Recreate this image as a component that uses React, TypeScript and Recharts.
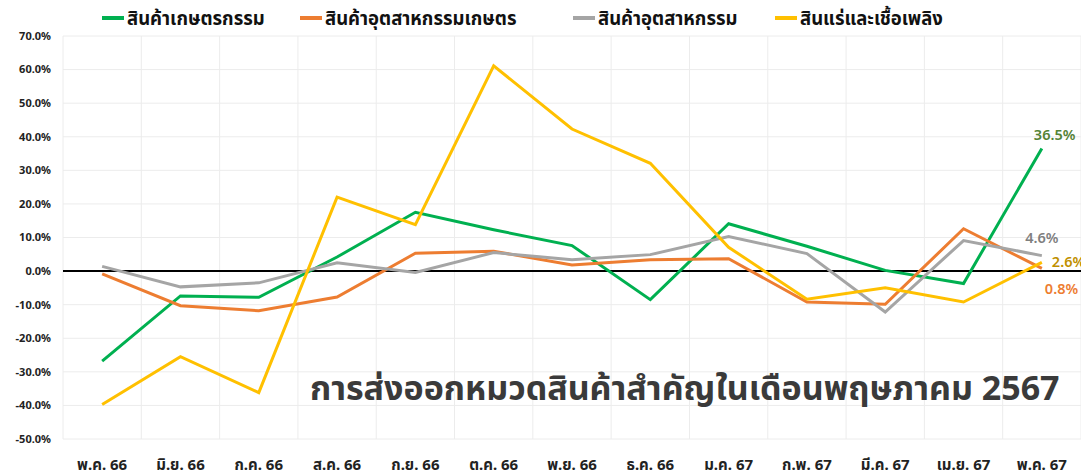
import { LineChart, Line, XAxis, YAxis, CartesianGrid, ReferenceLine, LabelList } from "recharts";

const months = ["พ.ค. 66", "มิ.ย. 66", "ก.ค. 66", "ส.ค. 66", "ก.ย. 66", "ต.ค. 66", "พ.ย. 66", "ธ.ค. 66", "ม.ค. 67", "ก.พ. 67", "มี.ค. 67", "เม.ย. 67", "พ.ค. 67"];
const agri = [-26.8, -7.4, -7.8, 4.2, 17.5, 12.3, 7.6, -8.5, 14.1, 7.4, 0.2, -3.7, 36.5];
const agroInd = [-0.8, -10.3, -11.8, -7.7, 5.3, 5.9, 1.8, 3.4, 3.7, -9.2, -9.9, 12.6, 0.8];
const industry = [1.4, -4.7, -3.5, 2.5, -0.4, 5.5, 3.4, 4.9, 10.3, 5.2, -12.2, 9.1, 4.6];
const fuel = [-39.7, -25.5, -36.2, 22.0, 13.8, 61.1, 42.3, 32.1, 7.1, -8.4, -5.0, -9.2, 2.6];
const yTicks = [-50, -40, -30, -20, -10, 0, 10, 20, 30, 40, 50, 60, 70];

const SERIES = [
  { key: "agri", name: "สินค้าเกษตรกรรม", color: "#00B050", labelColor: "#548235", legendX: 102, dx: -8, dy: -12, anchor: "start" },
  { key: "agroInd", name: "สินค้าอุตสาหกรรมเกษตร", color: "#ED7D31", labelColor: "#ED7D31", legendX: 300, dx: 3, dy: 22, anchor: "start" },
  { key: "industry", name: "สินค้าอุตสาหกรรม", color: "#A5A5A5", labelColor: "#7F7F7F", legendX: 573, dx: 0, dy: -17, anchor: "middle" },
  { key: "fuel", name: "สินแร่และเชื้อเพลิง", color: "#FFC000", labelColor: "#BF9000", legendX: 775, dx: 10, dy: 1, anchor: "start" },
];

const data = months.map((m, i) => ({ month: m, agri: agri[i], agroInd: agroInd[i], industry: industry[i], fuel: fuel[i] }));

const FONT = "'Noto Sans', 'Noto Sans Thai', Roboto, sans-serif";
const TITLE = "การส่งออกหมวดสินค้าสำคัญในเดือนพฤษภาคม 2567";

function lastLabel(color: string, dx: number, dy: number, anchor: string) {
  return (props: any) => {
    const { x, y, value, index } = props;
    if (index !== months.length - 1) return null;
    return (
      <text x={x + dx} y={y + dy} fill={color} fontSize={14.5} fontWeight={600} textAnchor={anchor as any} dominantBaseline="middle" fontFamily={FONT}>
        {value.toFixed(1)}%
      </text>
    );
  };
}

export default function App() {
  return (
    <div style={{ position: "absolute", left: 0, top: 0, width: 1081, height: 474, background: "#fff", fontFamily: FONT, overflow: "hidden" }}>
      <LineChart width={1081} height={474} data={data} margin={{ top: 36, right: 0, left: 5, bottom: 0 }}>
        <CartesianGrid
          stroke="#ececec"
          verticalCoordinatesGenerator={({ offset }: any) => Array.from({ length: months.length + 1 }, (_, i) => offset.left + (i * offset.width) / months.length)}
        />
        <XAxis dataKey="month" scale="band" axisLine={false} tickLine={false} height={35} tickMargin={14} tick={{ fill: "#222", fontSize: 15, fontWeight: 700, fontFamily: FONT }} interval={0} />
        <YAxis domain={[-50, 70]} ticks={yTicks} width={58} axisLine={false} tickLine={false} tickMargin={6} tick={{ fill: "#222", fontSize: 11, fontWeight: 700, fontFamily: FONT }} tickFormatter={(v) => v.toFixed(1) + "%"} />
        <ReferenceLine y={0} stroke="#000" strokeWidth={2} />
        {SERIES.map((s) => (
          <Line key={s.key} dataKey={s.key} name={s.name} stroke={s.color} strokeWidth={3} dot={false} isAnimationActive={false}>
            <LabelList dataKey={s.key} content={lastLabel(s.labelColor, s.dx, s.dy, s.anchor)} />
          </Line>
        ))}
      </LineChart>
      {SERIES.map((s) => (
        <div key={s.key} style={{ position: "absolute", left: s.legendX, top: 6, display: "flex", alignItems: "center", fontSize: 18.5, fontWeight: 700, color: "#111", lineHeight: "24px", whiteSpace: "nowrap" }}>
          <span style={{ display: "inline-block", width: 22, height: 4, background: s.color, marginRight: 3 }} />
          <span>{s.name}</span>
        </div>
      ))}
      <div style={{ position: "absolute", left: 310, top: 365, fontSize: 34, fontWeight: 700, color: "#3a3a3a", whiteSpace: "nowrap", lineHeight: "44px" }}>{TITLE}</div>
    </div>
  );
}
